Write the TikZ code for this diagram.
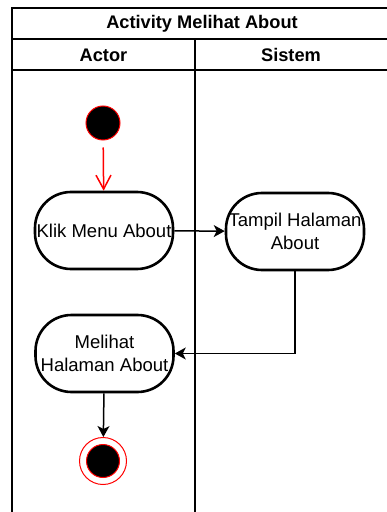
\documentclass[tikz,border=0pt]{standalone}
\usepackage{fontspec}
\setmainfont{Liberation Sans}
\usetikzlibrary{arrows.meta}
\definecolor{umlRed}{HTML}{FF0000}

\begin{document}
\begin{tikzpicture}[x=1bp, y=-1bp, line width=1.5bp,
	lane/.style={font=\fontsize{18.3}{22}\selectfont\bfseries},
	action/.style={draw, line width=2.6bp, rectangle, rounded corners=36bp, minimum width=138bp, minimum height=77bp, inner sep=0pt, align=center, font=\fontsize{18.6}{23}\selectfont},
	flow/.style={-{Stealth[length=11bp, width=12bp, inset=3bp]}}]
	\useasboundingbox (0,0) rectangle (386,512);
	\draw (12,8) rectangle (392,530);
	\draw (12,39) -- (392,39);
	\draw (12,70) -- (392,70);
	\draw (195,39) -- (195,530);
	\node[lane] (title) at (202,24) {Activity Melihat About};
	\node[lane] (actor) at (103.5,55) {Actor};
	\node[lane] (sistem) at (291,55) {Sistem};

	\node[circle, fill=black, draw=umlRed, line width=1bp, minimum size=34bp, inner sep=0pt] (start) at (103,123) {};
	\node[action] (klik) at (104,230.5) {Klik Menu About};
	\node[action] (tampil) at (295,231.5) {Tampil Halaman\\About};
	\node[action] (melihat) at (104.5,353.5) {Melihat\\Halaman About};
	\node[circle, fill=white, draw=umlRed, line width=1bp, minimum size=47bp, inner sep=0pt] (end) at (103,461) {};
	\node[circle, fill=black, draw=umlRed, line width=1bp, minimum size=33bp, inner sep=0pt] (endIn) at (end) {};

	\draw[umlRed, shorten <=7bp, -{Straight Barb[length=14bp, width=15bp]}] (start) -- (klik);
	\draw[flow] (klik) -- (tampil);
	\draw[flow] (tampil.south) |- (melihat.east);
	\draw[flow] (melihat) -- (end);
\end{tikzpicture}
\end{document}
